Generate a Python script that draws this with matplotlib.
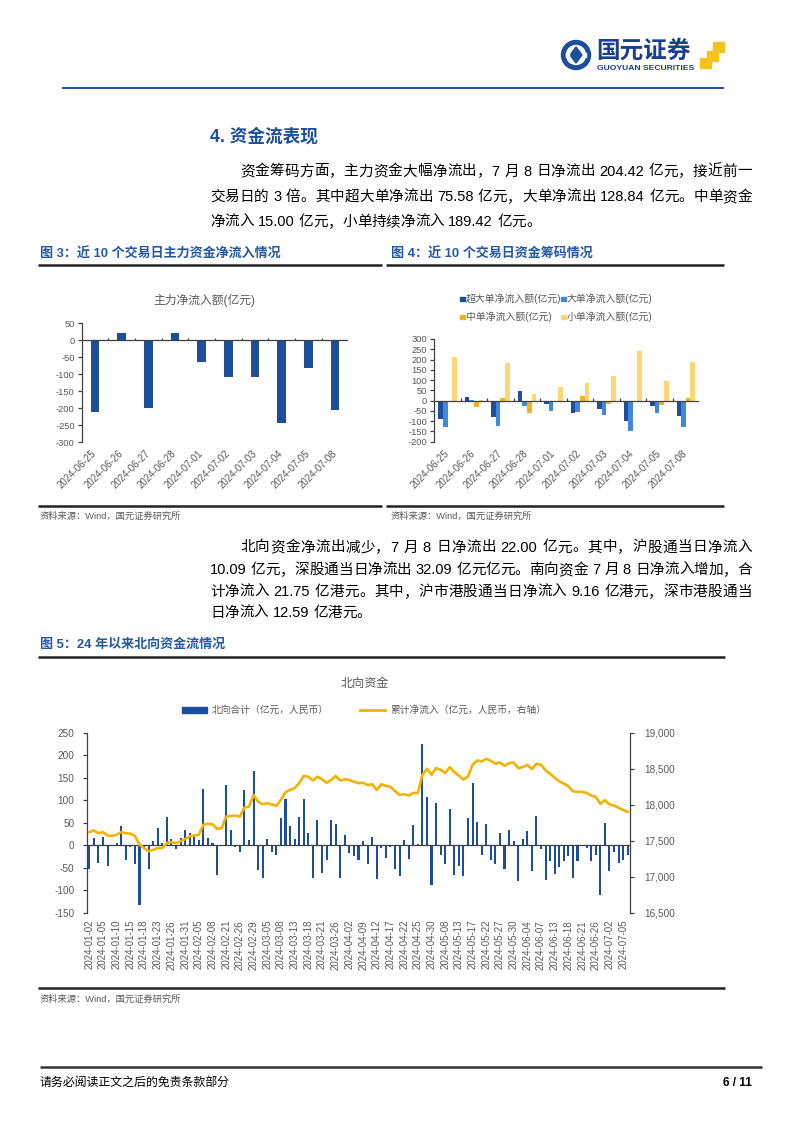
import numpy as np
import pandas as pd
import matplotlib
matplotlib.use('Agg')
import matplotlib.pyplot as plt
from matplotlib.patches import Rectangle, Circle, Polygon
from matplotlib import font_manager, ft2font

W, H, DPI = 802, 1133, 100
FAM = ['Liberation Sans', 'Noto Sans CJK SC']
plt.rcParams['font.family'] = FAM
plt.rcParams['axes.unicode_minus'] = False

NAVY = '#1B4E9B'
TITLE_BLUE = '#2457A4'
GOLD = '#F5B300'
GREY = '#595959'
AXIS = '#404040'

# ---------------- data ----------------
days10 = ['2024-06-25', '2024-06-26', '2024-06-27', '2024-06-28', '2024-07-01',
          '2024-07-02', '2024-07-03', '2024-07-04', '2024-07-05', '2024-07-08']
main_flow = [-211, 21, -200, 21, -63, -109, -107, -243, -82, -204.42]

xl_flow = [-88, 16, -80, 45, -16, -60, -41, -99, -24, -75.58]
l_flow = [-130, 5, -125, -26, -49, -57, -71, -149, -58, -128.84]
m_flow = [-8, -31, 11, -58, -3, 21, -16, -3, -21, 15.00]
s_flow = [214, 3, 185, 34, 65, 86, 120, 243, 94, 189.42]
names4 = ['超大单净流入额(亿元)', '大单净流入额(亿元)', '中单净流入额(亿元)', '小单净流入额(亿元)']

# northbound trading days (exchange holidays removed)
holidays = ['2024-01-01', '2024-02-09', '2024-02-12', '2024-02-13', '2024-02-14',
            '2024-02-15', '2024-02-16', '2024-03-29', '2024-04-01', '2024-04-04',
            '2024-04-05', '2024-05-01', '2024-05-02', '2024-05-03', '2024-05-15',
            '2024-06-10', '2024-07-01']
trade_days = [d.strftime('%Y-%m-%d') for d in pd.bdate_range('2024-01-02', '2024-07-08')
              if d.strftime('%Y-%m-%d') not in holidays]

nb_flow = [-52, 16, -40, 19, -45, 1, 6, 43, -32, -3,
           -42, -133, -5, -53, 10, 38, 5, 62, 15, -8,
           16, 35, 28, 22, 12, 125, 16, 6, -65, -2,
           135, 35, -3, -15, 122, 13, 165, -55, -72, 15,
           -15, -22, 60, 103, 43, 15, 64, 103, 28, -72,
           56, -62, -32, 56, 48, -73, 23, -17, -23, -32,
           10, -42, 19, -75, -5, -28, -3, -53, -67, 13,
           -30, 46, 4, 224, 108, -87, 93, -22, -41, 80,
           -65, -46, -68, 60, 138, 52, -21, 47, -33, -42,
           28, -52, 34, 10, -80, 15, 32, -57, 66, -7,
           -76, -35, -64, -49, -34, -24, -72, -34, 0, -6,
           -35, -21, -110, 49, -56, -15, -40, -33, -22]
nb_cum = [17622, 17644, 17606, 17622, 17575, 17569, 17585, 17622, 17606, 17600,
          17569, 17447, 17400, 17356, 17375, 17400, 17400, 17470, 17484, 17470,
          17494, 17525, 17562, 17575, 17585, 17723, 17737, 17731, 17668, 17675,
          17837, 17847, 17850, 17837, 17962, 17975, 18137, 18044, 18006, 18022,
          18006, 17987, 18069, 18175, 18206, 18231, 18300, 18400, 18390, 18337,
          18390, 18354, 18306, 18344, 18400, 18337, 18354, 18344, 18322, 18300,
          18306, 18275, 18285, 18206, 18285, 18262, 18250, 18193, 18137, 18147,
          18128, 18165, 18165, 18417, 18500, 18417, 18509, 18486, 18440, 18523,
          18454, 18404, 18349, 18394, 18555, 18615, 18601, 18638, 18610, 18569,
          18587, 18541, 18578, 18587, 18509, 18523, 18555, 18495, 18569, 18555,
          18477, 18431, 18372, 18326, 18294, 18257, 18188, 18179, 18179, 18165,
          18128, 18110, 18014, 18064, 18005, 17991, 17959, 17927, 17904]
left_ticks5 = [-150, -100, -50, 0, 50, 100, 150, 200, 250]
right_ticks5 = [16500, 17000, 17500, 18000, 18500, 19000]

para1 = ['资金筹码方面，主力资金大幅净流出，7 月 8 日净流出 204.42 亿元，接近前一',
         '交易日的 3 倍。其中超大单净流出 75.58 亿元，大单净流出 128.84 亿元。中单资金',
         '净流入 15.00 亿元，小单持续净流入 189.42 亿元。']
para2 = ['北向资金净流出减少，7 月 8 日净流出 22.00 亿元。其中，沪股通当日净流入',
         '10.09 亿元，深股通当日净流出 32.09 亿元亿元。南向资金 7 月 8 日净流入增加，合',
         '计净流入 21.75 亿港元。其中，沪市港股通当日净流入 9.16 亿港元，深市港股通当',
         '日净流入 12.59 亿港元。']

# ---------------- page ----------------
fig = plt.figure(figsize=(W / DPI, H / DPI), dpi=DPI)
bg = fig.add_axes([0, 0, 1, 1])
bg.set_xlim(0, W)
bg.set_ylim(H, 0)
bg.axis('off')


def px_axes(x0, y0, x1, y1):
    return fig.add_axes([x0 / W, 1 - y1 / H, (x1 - x0) / W, (y1 - y0) / H])


lat_font = ft2font.FT2Font(font_manager.findfont(font_manager.FontProperties(family='Liberation Sans')))


def adv(s, size):
    # advance width in px of a token
    total = 0.0
    for ch in s:
        if ord(ch) > 0x2000:
            total += size * DPI / 72
        else:
            lat_font.set_size(size, DPI)
            g = lat_font.load_char(ord(ch))
            total += g.linearHoriAdvance / 65536
    return total


def tokens(s):
    out, cur = [], ''
    for ch in s:
        if ord(ch) > 0x2000 or ch == ' ':
            if cur:
                out.append(cur)
                cur = ''
            out.append(ch)
        else:
            cur += ch
    if cur:
        out.append(cur)
    return out


def text_line(x0, y, s, size, x1=None):
    toks = tokens(s)
    ws = [adv(t, size) for t in toks]
    gap = 0 if x1 is None else (x1 - x0 - sum(ws)) / (len(toks) - 1)
    x = x0
    for t, w in zip(toks, ws):
        if t != ' ':
            bg.text(x, y, t, fontsize=size, ha='left', va='baseline', color='black')
        x += w + gap


def hline(x0, x1, y, color, lw):
    bg.plot([x0, x1], [y, y], color=color, lw=lw, solid_capstyle='butt')


# header and logo
hline(62, 724, 88, NAVY, 1.4)
bg.add_patch(Circle((576, 55), 14.5, color=NAVY))
bg.add_patch(Circle((576, 55), 9.5, color='white'))
bg.add_patch(Polygon([[576, 47], [582, 55], [576, 63], [570, 55]], color=NAVY))
bg.add_patch(Rectangle((566, 53), 3, 4, color='white'))
bg.add_patch(Rectangle((583, 53), 3, 4, color='white'))
bg.text(596, 51, '国元证券', fontsize=17, fontweight='bold', color='#1A3F8F', ha='left', va='center')
bg.text(597, 68, 'GUOYUAN SECURITIES', fontsize=6.1, fontweight='bold', color='#1A3F8F',
        ha='left', va='center')
for sx, sy in [(713, 42), (707, 51), (700, 58)]:
    bg.add_patch(Rectangle((sx, sy), 10.5, 10, color='#F5C21B'))

# section heading and paragraphs
bg.text(210, 137, '4. 资金流表现', fontsize=12.7, fontweight='bold', color=NAVY, ha='left', va='center')
size_body = 10.5
p1_y = [175.5, 201, 226]
for i, line in enumerate(para1):
    x0 = 240 if i == 0 else 210
    text_line(x0, p1_y[i], line, size_body, None if i == len(para1) - 1 else 752)
p2_y = [551.5, 574, 596, 617]
for i, line in enumerate(para2):
    x0 = 240 if i == 0 else 210
    text_line(x0, p2_y[i], line, size_body, None if i == len(para2) - 1 else 752)

# figure captions and rules
bg.text(40, 254, '图 3：近 10 个交易日主力资金净流入情况', fontsize=9.4, fontweight='bold',
        color=TITLE_BLUE, ha='left', va='center')
bg.text(391, 254, '图 4：近 10 个交易日资金筹码情况', fontsize=9.4, fontweight='bold',
        color=TITLE_BLUE, ha='left', va='center')
hline(38, 382, 265, '#222222', 1.8)
hline(386, 724, 265, '#222222', 1.8)
hline(38, 382, 505.5, '#222222', 1.8)
hline(386, 724, 505.5, '#222222', 1.8)
bg.text(40, 516, '资料来源：Wind，国元证券研究所', fontsize=6.7, color=GREY, ha='left', va='center')
bg.text(391, 516, '资料来源：Wind，国元证券研究所', fontsize=6.7, color=GREY, ha='left', va='center')

bg.text(40, 645, '图 5：24 年以来北向资金流情况', fontsize=9.4, fontweight='bold',
        color=TITLE_BLUE, ha='left', va='center')
hline(38, 725, 656.5, '#222222', 1.8)
hline(38, 725, 988, '#222222', 1.8)
bg.text(40, 999, '资料来源：Wind，国元证券研究所', fontsize=6.7, color=GREY, ha='left', va='center')

# footer
hline(40, 762, 1067, '#333333', 1.8)
bg.text(40, 1083, '请务必阅读正文之后的免责条款部分', fontsize=8.6, color='black', ha='left', va='center')
bg.text(752, 1083, '6 / 11', fontsize=8.6, fontweight='bold', color='black', ha='right', va='center')

# ---------------- figure 3 ----------------
bg.text(204, 300, '主力净流入额(亿元)', fontsize=8.5, color=GREY, ha='center', va='center')
ax3 = px_axes(81.7, 323.3, 348.3, 442.3)
x10 = np.arange(len(days10))
ax3.bar(x10, main_flow, width=0.33, color=NAVY, zorder=2)
ax3.set_xlim(-0.5, 9.5)
ax3.set_ylim(-300, 50)
ax3.set_yticks(range(-300, 51, 50))
for s in ['top', 'right', 'bottom']:
    ax3.spines[s].set_visible(False)
ax3.spines['left'].set_color(AXIS)
ax3.spines['left'].set_linewidth(0.9)
ax3.axhline(0, color=AXIS, lw=0.9, zorder=3)
ax3.vlines(np.arange(0.5, 9.5, 1), 0, 8, color=AXIS, lw=0.9, zorder=3)
ax3.set_xticks(x10, labels=days10, rotation=45, ha='right', va='center', rotation_mode='anchor')
ax3.tick_params(axis='x', length=0, pad=7, labelsize=7, labelcolor=GREY)
ax3.tick_params(axis='y', length=3, width=0.9, color=AXIS, labelsize=6.7, labelcolor=GREY, pad=2)

# ---------------- figure 4 ----------------
colors4 = ['#1F4E9E', '#3F88DA', '#F2B41B', '#FDD673']
leg_pos = [(460, 299), (561, 299), (460, 317), (561, 317)]
for (lx, ly), nm, col in zip(leg_pos, names4, colors4):
    bg.add_patch(Rectangle((lx, ly - 2.5), 4.5, 4.5, color=col))
    bg.text(lx + 6, ly, nm, fontsize=7.1, color=GREY, ha='left', va='center')

ax4 = px_axes(434.3, 339, 699, 441.7)
w4 = 0.175
for k, (vals, col) in enumerate(zip([xl_flow, l_flow, m_flow, s_flow], colors4)):
    ax4.bar(x10 + (k - 1.5) * w4, vals, width=w4, color=col, zorder=2)
ax4.set_xlim(-0.5, 9.5)
ax4.set_ylim(-200, 300)
ax4.set_yticks(range(-200, 301, 50))
for s in ['top', 'right', 'bottom']:
    ax4.spines[s].set_visible(False)
ax4.spines['left'].set_color(AXIS)
ax4.spines['left'].set_linewidth(0.9)
ax4.axhline(0, color=AXIS, lw=0.9, zorder=3)
ax4.vlines(np.arange(0.5, 9.5, 1), 0, 11, color=AXIS, lw=0.9, zorder=3)
ax4.set_xticks(x10, labels=days10, rotation=45, ha='right', va='center', rotation_mode='anchor')
ax4.tick_params(axis='x', length=0, pad=7, labelsize=7, labelcolor=GREY)
ax4.tick_params(axis='y', length=3, width=0.9, color=AXIS, labelsize=6.7, labelcolor=GREY, pad=2)

# ---------------- figure 5 ----------------
bg.text(365, 684, '北向资金', fontsize=8.7, color=GREY, ha='center', va='center')
bg.add_patch(Rectangle((182, 707), 25, 6, color=NAVY))
bg.text(212, 710, '北向合计（亿元，人民币）', fontsize=7, color=GREY, ha='left', va='center')
bg.plot([360, 385], [710, 710], color=GOLD, lw=2)
bg.text(390, 710, '累计净流入（亿元，人民币，右轴）', fontsize=7, color=GREY, ha='left', va='center')

ax5 = px_axes(87, 732.7, 630, 913)
idx = np.arange(len(trade_days))
ax5.bar(idx, nb_flow, width=0.45, color=NAVY, zorder=2)
ax5.set_xlim(-0.5, len(trade_days) - 0.5)
ax5.set_ylim(-150, 250)
ax5.set_yticks(left_ticks5)
for s in ['top', 'right', 'bottom']:
    ax5.spines[s].set_visible(False)
ax5.spines['left'].set_color(AXIS)
ax5.spines['left'].set_linewidth(0.9)
ax5.axhline(0, color=AXIS, lw=0.9, zorder=3)
ax5.set_xticks(idx[::3], labels=trade_days[::3], rotation=90, ha='center', va='top')
ax5.tick_params(axis='x', length=0, pad=5, labelsize=7, labelcolor=GREY)
ax5.tick_params(axis='y', length=3, width=0.9, color=AXIS, labelsize=7.2, labelcolor=GREY, pad=6)

ax5r = ax5.twinx()
ax5r.plot(idx, nb_cum, color=GOLD, lw=1.9, zorder=4)
ax5r.set_ylim(16500, 19000)
ax5r.set_yticks(right_ticks5, labels=[f'{v:,}' for v in right_ticks5])
for s in ['top', 'left', 'bottom']:
    ax5r.spines[s].set_visible(False)
ax5r.spines['right'].set_color(AXIS)
ax5r.spines['right'].set_linewidth(0.9)
ax5r.tick_params(axis='y', length=3, width=0.9, color=AXIS, labelsize=7.2, labelcolor=GREY, pad=7)

fig.savefig('out.png', dpi=DPI)
